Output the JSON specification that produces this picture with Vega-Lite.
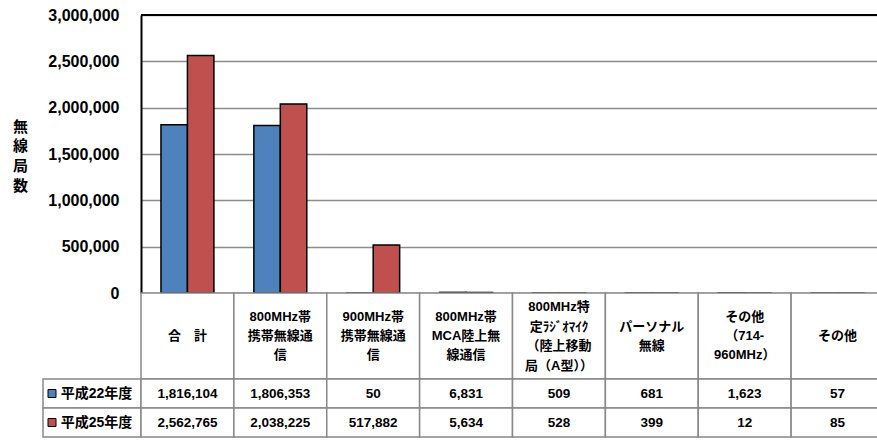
{
  "$schema": "https://vega.github.io/schema/vega-lite/v6.json",
  "padding": {"left": 12, "top": 7, "right": 0, "bottom": 0},
  "background": "white",
  "config": {"font": "Liberation Sans, Noto Sans CJK JP", "view": {"stroke": null}},
  "datasets": {
    "stations": [
      {"cat": "合計", "year": "平成22年度", "value": 1816104},
      {"cat": "合計", "year": "平成25年度", "value": 2562765},
      {"cat": "800MHz帯携帯無線通信", "year": "平成22年度", "value": 1806353},
      {"cat": "800MHz帯携帯無線通信", "year": "平成25年度", "value": 2038225},
      {"cat": "900MHz帯携帯無線通信", "year": "平成22年度", "value": 50},
      {"cat": "900MHz帯携帯無線通信", "year": "平成25年度", "value": 517882},
      {"cat": "800MHz帯MCA陸上無線通信", "year": "平成22年度", "value": 6831},
      {"cat": "800MHz帯MCA陸上無線通信", "year": "平成25年度", "value": 5634},
      {"cat": "800MHz特定ラジオマイク", "year": "平成22年度", "value": 509},
      {"cat": "800MHz特定ラジオマイク", "year": "平成25年度", "value": 528},
      {"cat": "パーソナル無線", "year": "平成22年度", "value": 681},
      {"cat": "パーソナル無線", "year": "平成25年度", "value": 399},
      {"cat": "その他(714-960MHz)", "year": "平成22年度", "value": 1623},
      {"cat": "その他(714-960MHz)", "year": "平成25年度", "value": 12},
      {"cat": "その他", "year": "平成22年度", "value": 57},
      {"cat": "その他", "year": "平成25年度", "value": 85}
    ],
    "categories": [
      {"cat": "合計", "label": "合　計"},
      {"cat": "800MHz帯携帯無線通信", "label": "800MHz帯\n携帯無線通\n信"},
      {"cat": "900MHz帯携帯無線通信", "label": "900MHz帯\n携帯無線通\n信"},
      {"cat": "800MHz帯MCA陸上無線通信", "label": "800MHz帯\nMCA陸上無\n線通信"},
      {"cat": "800MHz特定ラジオマイク", "label": "800MHz特\n定ﾗｼﾞｵﾏｲｸ\n（陸上移動\n局（A型））"},
      {"cat": "パーソナル無線", "label": "パーソナル\n無線"},
      {"cat": "その他(714-960MHz)", "label": "その他\n（714-\n960MHz）"},
      {"cat": "その他", "label": "その他"}
    ],
    "years": [{"year": "平成22年度"}, {"year": "平成25年度"}],
    "frame": [{"top": 3000000}]
  },
  "columns": 2,
  "spacing": 0,
  "bounds": "flush",
  "concat": [
    {
      "width": 98, "height": 278,
      "data": {"name": "years"},
      "mark": {"type": "text"},
      "encoding": {"text": {"value": ""}}
    },
    {
      "width": 743, "height": 278,
      "layer": [
        {
          "data": {"name": "stations"},
          "mark": {"type": "bar", "stroke": "black", "strokeWidth": 1.5},
          "encoding": {
            "x": {"field": "cat", "type": "nominal", "sort": null, "axis": null, "scale": {"paddingInner": 0.43, "paddingOuter": 0.215}},
            "xOffset": {"field": "year", "type": "nominal", "sort": null, "scale": {"paddingInner": 0, "paddingOuter": 0}},
            "y": {
              "field": "value", "type": "quantitative",
              "scale": {"domain": [0, 3000000], "nice": false},
              "axis": {
                "values": [0, 500000, 1000000, 1500000, 2000000, 2500000, 3000000],
                "format": ",d", "grid": true, "gridColor": "#8c8c8c", "gridWidth": 1.5,
                "ticks": false, "labelPadding": 22, "labelFontSize": 16, "labelFontWeight": "bold", "labelColor": "black",
                "domainColor": "black", "domainWidth": 2,
                "title": ["無", "線", "局", "数"], "titleAngle": 0, "titleX": -121, "titleY": 104,
                "titleAlign": "center", "titleBaseline": "top", "titleFontSize": 15, "titleLineHeight": 19.7,
                "titleFontWeight": "bold", "titleColor": "black"
              }
            },
            "color": {"field": "year", "type": "nominal", "scale": {"domain": ["平成22年度", "平成25年度"], "range": ["#4F81BD", "#C0504D"]}, "legend": null}
          }
        },
        {
          "data": {"name": "frame"},
          "mark": {"type": "rule", "color": "black", "strokeWidth": 2},
          "encoding": {"y": {"field": "top", "type": "quantitative"}}
        }
      ]
    },
    {
      "width": 98, "height": 86,
      "data": {"name": "years"},
      "mark": {"type": "text"},
      "encoding": {"text": {"value": ""}}
    },
    {
      "width": 743, "height": 86,
      "data": {"name": "categories"},
      "encoding": {"x": {"field": "cat", "type": "nominal", "sort": null, "axis": null, "scale": {"paddingInner": 0, "paddingOuter": 0}}},
      "layer": [
        {"mark": {"type": "rect", "fill": "white", "stroke": "#888888", "strokeWidth": 1.5}},
        {"transform": [{"filter": "split(datum.label, '\\n').length == 1"}],
         "mark": {"type": "text", "fontWeight": "bold", "fontSize": 13, "lineBreak": "\n", "lineHeight": 19, "baseline": "middle", "color": "black"},
         "encoding": {"text": {"field": "label"}}},
        {"transform": [{"filter": "split(datum.label, '\\n').length == 2"}],
         "mark": {"type": "text", "fontWeight": "bold", "fontSize": 13, "lineBreak": "\n", "lineHeight": 19, "baseline": "middle", "dy": -9.5, "color": "black"},
         "encoding": {"text": {"field": "label"}}},
        {"transform": [{"filter": "split(datum.label, '\\n').length == 3"}],
         "mark": {"type": "text", "fontWeight": "bold", "fontSize": 13, "lineBreak": "\n", "lineHeight": 19, "baseline": "middle", "dy": -19, "color": "black"},
         "encoding": {"text": {"field": "label"}}},
        {"transform": [{"filter": "split(datum.label, '\\n').length == 4"}],
         "mark": {"type": "text", "fontWeight": "bold", "fontSize": 13, "lineBreak": "\n", "lineHeight": 19.5, "baseline": "middle", "dy": -29, "color": "black"},
         "encoding": {"text": {"field": "label"}}}
      ]
    },
    {
      "width": 98, "height": 58,
      "data": {"name": "years"},
      "encoding": {"y": {"field": "year", "type": "nominal", "sort": null, "axis": null, "scale": {"paddingInner": 0, "paddingOuter": 0}}},
      "layer": [
        {"mark": {"type": "rect", "fill": "white", "stroke": "#888888", "strokeWidth": 1.5}},
        {"mark": {"type": "point", "shape": "square", "filled": true, "size": 64, "stroke": "black", "strokeWidth": 1, "xOffset": -40, "opacity": 1},
         "encoding": {"color": {"field": "year", "type": "nominal", "scale": {"domain": ["平成22年度", "平成25年度"], "range": ["#4F81BD", "#C0504D"]}, "legend": null}}},
        {"mark": {"type": "text", "fontWeight": "bold", "fontSize": 14, "xOffset": 4.5, "color": "black"},
         "encoding": {"text": {"field": "year"}}}
      ]
    },
    {
      "width": 743, "height": 58,
      "data": {"name": "stations"},
      "encoding": {
        "x": {"field": "cat", "type": "nominal", "sort": null, "axis": null, "scale": {"paddingInner": 0, "paddingOuter": 0}},
        "y": {"field": "year", "type": "nominal", "sort": null, "axis": null, "scale": {"paddingInner": 0, "paddingOuter": 0}}
      },
      "layer": [
        {"mark": {"type": "rect", "fill": "white", "stroke": "#888888", "strokeWidth": 1.5}},
        {"mark": {"type": "text", "fontWeight": "bold", "fontSize": 13.5, "color": "black"},
         "encoding": {"text": {"field": "value", "type": "quantitative", "format": ",d"}}}
      ]
    }
  ]
}
